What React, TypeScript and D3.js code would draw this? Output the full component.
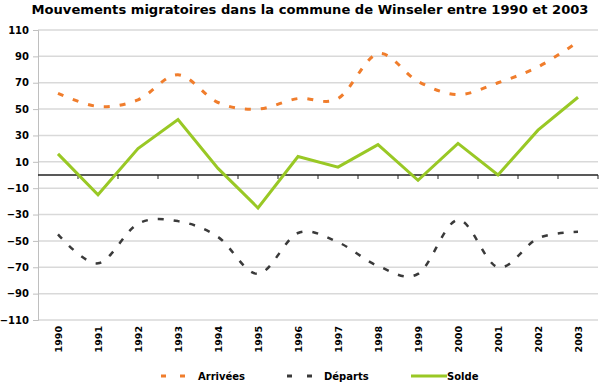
import React, { useEffect, useRef } from "react";
import * as d3 from "d3";

const years = ["1990", "1991", "1992", "1993", "1994", "1995", "1996", "1997", "1998", "1999", "2000", "2001", "2002", "2003"];
const arrivees = [62, 52, 57, 76, 55, 50, 58, 58, 92, 71, 61, 70, 82, 101];
const departs = [-45, -67, -37, -35, -47, -75, -44, -51, -69, -75, -34, -70, -48, -43];
const solde = [16, -15, 20, 42, 5, -25, 14, 6, 23, -4, 24, 0, 34, 59];
const yTicks = d3.range(-110, 111, 20);

const FONT = "'DejaVu Sans', Verdana, sans-serif";

const App = () => {
  const svgRef = useRef<SVGSVGElement>(null);

  useEffect(() => {
    const width = 603, height = 385;
    const margin = { top: 30, right: 5, bottom: 65, left: 38 };

    const x = d3.scaleBand<string>()
      .domain(years)
      .range([margin.left, width - margin.right]);

    const y = d3.scaleLinear()
      .domain([-110, 110])
      .range([height - margin.bottom, margin.top]);

    const cx = (i: number) => (x(years[i]) as number) + x.bandwidth() / 2;

    const svg = d3.select(svgRef.current)
      .attr("width", width)
      .attr("height", height);
    svg.selectAll("*").remove();

    // titre
    svg.append("text")
      .attr("x", 310)
      .attr("y", 14)
      .attr("text-anchor", "middle")
      .attr("font-family", FONT)
      .attr("font-weight", "bold")
      .attr("font-size", 13.1)
      .text("Mouvements migratoires dans la commune de Winseler entre 1990 et 2003");

    // grille
    svg.append("g")
      .selectAll("line")
      .data(yTicks)
      .enter().append("line")
      .attr("x1", margin.left)
      .attr("x2", width - margin.right)
      .attr("y1", d => y(d))
      .attr("y2", d => y(d))
      .attr("stroke", "#d9d9d9")
      .attr("stroke-width", 1.5);

    // axe Y
    const yAxis = svg.append("g")
      .attr("transform", `translate(${margin.left},0)`)
      .call(d3.axisLeft(y).tickValues(yTicks).tickSize(5).tickPadding(4));
    yAxis.select(".domain").attr("stroke", "#bfbfbf");
    yAxis.selectAll(".tick line").attr("stroke", "#bfbfbf");
    yAxis.selectAll("text")
      .attr("font-family", FONT)
      .attr("font-weight", "bold")
      .attr("font-size", 10)
      .attr("fill", "#000");

    // axe des catégories (à zéro)
    const y0 = y(0);
    svg.append("line")
      .attr("x1", margin.left)
      .attr("x2", width - margin.right)
      .attr("y1", y0)
      .attr("y2", y0)
      .attr("stroke", "#222")
      .attr("stroke-width", 1.5);
    svg.append("g")
      .selectAll("line")
      .data(years)
      .enter().append("line")
      .attr("x1", d => (x(d) as number) + x.step())
      .attr("x2", d => (x(d) as number) + x.step())
      .attr("y1", y0)
      .attr("y2", y0 + 4)
      .attr("stroke", "#222")
      .attr("stroke-width", 1);

    // étiquettes des années
    svg.append("g")
      .selectAll("text")
      .data(years)
      .enter().append("text")
      .attr("transform", (d, i) => `translate(${cx(i) + 3.5},${height - margin.bottom + 6}) rotate(-90)`)
      .attr("text-anchor", "end")
      .attr("font-family", FONT)
      .attr("font-weight", "bold")
      .attr("font-size", 9.5)
      .text(d => d);

    const smooth = d3.line<number>()
      .x((d, i) => cx(i))
      .y(d => y(d))
      .curve(d3.curveCatmullRom.alpha(0));

    const straight = d3.line<number>()
      .x((d, i) => cx(i))
      .y(d => y(d));

    svg.append("path")
      .attr("d", smooth(departs))
      .attr("fill", "none")
      .attr("stroke", "#3a3a3a")
      .attr("stroke-width", 2.5)
      .attr("stroke-dasharray", "6 10");

    svg.append("path")
      .attr("d", smooth(arrivees))
      .attr("fill", "none")
      .attr("stroke", "#f07d2c")
      .attr("stroke-width", 3)
      .attr("stroke-dasharray", "6 10");

    svg.append("path")
      .attr("d", straight(solde))
      .attr("fill", "none")
      .attr("stroke", "#99c825")
      .attr("stroke-width", 3)
      .attr("stroke-linejoin", "miter");

    // légende
    const legend = [
      { name: "Arrivées", color: "#f07d2c", dash: "5 14", x: 161, tx: 198 },
      { name: "Départs", color: "#3a3a3a", dash: "5 15", x: 287, tx: 324 },
      { name: "Solde", color: "#99c825", dash: null, x: 411, tx: 447 },
    ];
    const lg = svg.append("g");
    legend.forEach(l => {
      lg.append("line")
        .attr("x1", l.x)
        .attr("x2", l.dash ? l.x + 25 : l.x + 36)
        .attr("y1", 376)
        .attr("y2", 376)
        .attr("stroke", l.color)
        .attr("stroke-width", 3)
        .attr("stroke-dasharray", l.dash);
      lg.append("text")
        .attr("x", l.tx)
        .attr("y", 380)
        .attr("font-family", FONT)
        .attr("font-weight", "bold")
        .attr("font-size", 10)
        .text(l.name);
    });
  }, []);

  return <svg ref={svgRef} style={{ position: "absolute", left: 0, top: 0, background: "#fff" }}></svg>;
};

export default App;
